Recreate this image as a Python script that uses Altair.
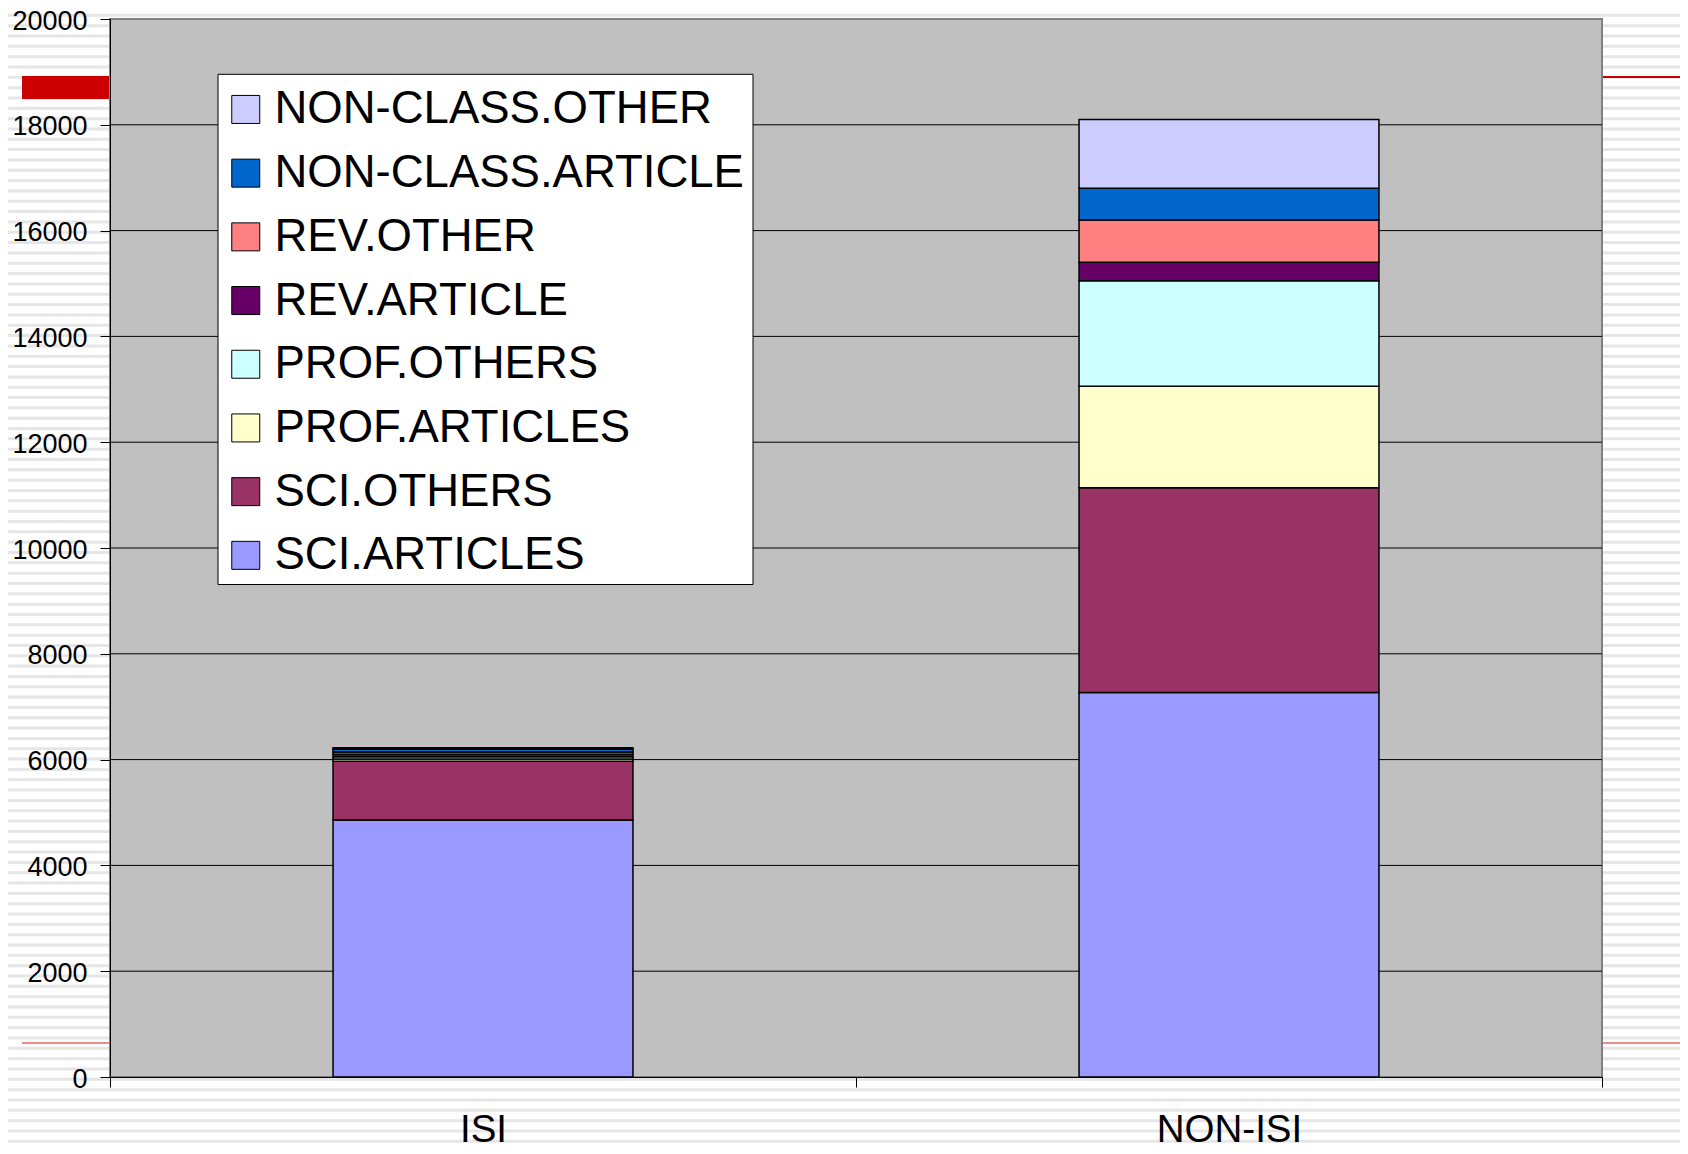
import altair as alt
import pandas as pd

# ---------------- data ----------------
CATEGORIES = ["ISI", "NON-ISI"]
SERIES = ["SCI.ARTICLES", "SCI.OTHERS", "PROF.ARTICLES", "PROF.OTHERS",
          "REV.ARTICLE", "REV.OTHER", "NON-CLASS.ARTICLE", "NON-CLASS.OTHER"]
ISI_VALUES = [4860, 1110, 40, 45, 45, 45, 50, 30]
NONISI_VALUES = [7270, 3870, 1920, 1990, 350, 800, 600, 1300]
COLORS = ["#9999FF", "#993366", "#FFFFCC", "#CCFFFF",
          "#660066", "#FF8080", "#0066CC", "#CCCCFF"]
Y_TICKS = [0, 2000, 4000, 6000, 8000, 10000, 12000, 14000, 16000, 18000, 20000]
GRID_TICKS = Y_TICKS[1:-1]

rows = []
for cat, vals in zip(CATEGORIES, [ISI_VALUES, NONISI_VALUES]):
    for i, (s, v) in enumerate(zip(SERIES, vals)):
        rows.append({"cat": cat, "series": s, "value": v, "rank": i})
df = pd.DataFrame(rows)

# ---------------- layout ----------------
W, H = 1492, 1058
PAD = {"left": 102, "top": 11, "right": 78, "bottom": 69}
FONT = "Liberation Sans"

legend_domain = SERIES[::-1]
legend_range = COLORS[::-1]

y_scale = alt.Scale(domain=[0, 20000], nice=False, zero=True)

# slide background stripes (decoration)
stripes = alt.Chart(alt.sequence(0, 112, 1, as_="k")).transform_calculate(
    p="5 + datum.k * 10.33"
).mark_rule(color="#e6e6e6", strokeWidth=3).encode(
    y=alt.Y("p:Q", scale=alt.Scale(domain=[0, 1154], range=[-19, 1135]), axis=None),
    x=alt.value(-102), x2=alt.value(1570),
)

one = pd.DataFrame({"k": [0]})

plot_bg = alt.Chart(one).mark_rect(
    fill="#C0C0C0", stroke="#808080", strokeWidth=2
).encode(x=alt.value(0), x2=alt.value(W), y=alt.value(0), y2=alt.value(H))

grid = alt.Chart(pd.DataFrame({"g": GRID_TICKS})).mark_rule(
    color="#000000", strokeWidth=1
).encode(y=alt.Y("g:Q", scale=y_scale, axis=None))

bars = alt.Chart(df).mark_bar(
    stroke="black", strokeWidth=1.5, width=alt.RelativeBandSize(0.402)
).encode(
    x=alt.X("cat:N", sort=CATEGORIES,
            scale=alt.Scale(paddingInner=0, paddingOuter=0),
            axis=alt.Axis(title=None, labelAngle=0, labelFont=FONT, labelFontSize=38.5,
                          labelColor="black", tickBand="extent", tickSize=10,
                          tickColor="black", domainColor="black", labelPadding=24,
                          zindex=1)),
    y=alt.Y("value:Q", stack="zero", scale=y_scale,
            axis=alt.Axis(title=None, values=Y_TICKS, format="d", grid=False,
                          labelFont=FONT, labelFontSize=27, labelColor="black",
                          tickSize=10, tickColor="black", domainColor="black",
                          labelPadding=13, labelOffset=2, zindex=1)),
    color=alt.Color("series:N",
                    scale=alt.Scale(domain=legend_domain, range=legend_range),
                    legend=alt.Legend(title=None, orient="none", legendX=108, legendY=58.2,
                                      symbolType="square", symbolSize=784,
                                      symbolStrokeColor="black", symbolStrokeWidth=1,
                                      symbolOffset=-4.5,
                                      labelFont=FONT, labelFontSize=45.5, labelColor="black",
                                      labelOffset=6, rowPadding=16.7, padding=9.5,
                                      symbolOpacity=1, labelLimit=0)),
    order=alt.Order("rank:Q", sort="ascending"),
)

# legend frame (white box with thin black border)
legend_box = alt.Chart(one).mark_rect(
    fill="white", stroke="black", strokeWidth=1
).encode(x=alt.value(108), x2=alt.value(643), y=alt.value(55.3), y2=alt.value(565.5))

red_left = alt.Chart(one).mark_rect(color="#CC0000").encode(
    x=alt.value(-88), x2=alt.value(-1), y=alt.value(57), y2=alt.value(80))
red_right = alt.Chart(one).mark_rule(color="#CC0000", strokeWidth=2).encode(
    x=alt.value(1493), x2=alt.value(1570), y=alt.value(58))
red_bl = alt.Chart(one).mark_rule(color="#E06868", strokeWidth=1.5).encode(
    x=alt.value(-88), x2=alt.value(-1), y=alt.value(1024))
red_br = alt.Chart(one).mark_rule(color="#E06868", strokeWidth=1.5).encode(
    x=alt.value(1493), x2=alt.value(1570), y=alt.value(1024))

chart = alt.layer(
    stripes, plot_bg, grid, bars, legend_box, red_left, red_right, red_bl, red_br
).resolve_scale(y="independent").properties(
    width=W, height=H, padding=PAD, autosize=alt.AutoSizeParams(type="none"),
    background="white",
).configure_view(stroke=None)

chart.save("out.html", embed_options={"renderer": "svg", "actions": False})
